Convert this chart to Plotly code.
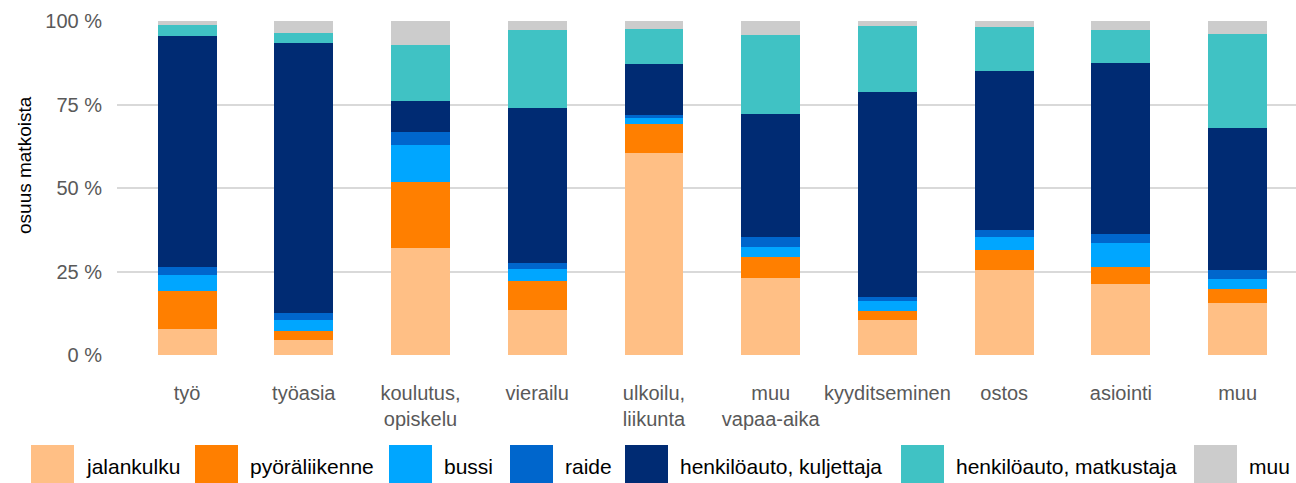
import plotly.graph_objects as go

categories = ["työ", "työasia", "koulutus,<br>opiskelu", "vierailu", "ulkoilu,<br>liikunta",
              "muu<br>vapaa-aika", "kyyditseminen", "ostos", "asiointi", "muu"]

series_names = ["jalankulku", "pyöräliikenne", "bussi", "raide",
                "henkilöauto, kuljettaja", "henkilöauto, matkustaja", "muu"]

jalankulku = [7.8, 4.5, 32.0, 13.5, 60.5, 23.1, 10.5, 25.4, 21.3, 15.6]
pyoraliikenne = [11.4, 2.7, 19.9, 8.7, 8.7, 6.2, 2.7, 6.0, 5.1, 4.2]
bussi = [4.8, 3.3, 11.0, 3.6, 1.8, 3.0, 3.0, 3.9, 7.1, 3.0]
raide = [2.4, 2.1, 3.9, 1.7, 0.9, 3.0, 1.2, 2.1, 2.7, 2.7]
kuljettaja = [69.1, 80.8, 9.2, 46.5, 15.2, 36.9, 61.3, 47.6, 51.2, 42.5]
matkustaja = [3.3, 3.0, 16.8, 23.3, 10.5, 23.6, 19.8, 13.2, 9.9, 28.1]
muu = [1.2, 3.6, 7.2, 2.7, 2.4, 4.2, 1.5, 1.8, 2.7, 3.9]

series_values = [jalankulku, pyoraliikenne, bussi, raide, kuljettaja, matkustaja, muu]
colors = ["#FFBF85", "#FF7F00", "#00A6FF", "#0066CC", "#002B73", "#40C2C4", "#CCCCCC"]

y_ticks = [0, 25, 50, 75, 100]

FONT = "Liberation Sans, Arial, sans-serif"
W, H = 1296, 483
L, R, T, B = 117, 0, 21, 128
PW, PH = W - L - R, H - T - B

fig = go.Figure()
for name, vals, col in zip(series_names, series_values, colors):
    fig.add_trace(go.Bar(x=list(range(len(categories))), y=vals, name=name,
                         marker=dict(color=col, line=dict(width=0)),
                         width=0.505, showlegend=False,
                         hovertemplate="%{y:.1f} %<extra>" + name + "</extra>"))

def px2x(px):
    return (px - L) / PW

def py2y(py):
    return (T + PH - py) / PH

# manual legend (large square swatches)
swatch_left = [31, 195, 389, 510, 625, 901, 1194]
shapes = []
annotations = []
for name, col, sx in zip(series_names, colors, swatch_left):
    shapes.append(dict(type="rect", xref="paper", yref="paper",
                       x0=px2x(sx), x1=px2x(sx + 43), y0=py2y(484), y1=py2y(445),
                       fillcolor=col, line=dict(width=0), layer="above"))
    annotations.append(dict(text=name, xref="paper", yref="paper",
                            x=px2x(sx + 53), y=py2y(466), xanchor="left", yanchor="middle",
                            showarrow=False, font=dict(family=FONT, size=21, color="#000000")))

annotations.append(dict(text="osuus matkoista", xref="paper", yref="paper",
                        x=px2x(25), y=py2y(165), xanchor="center", yanchor="middle",
                        textangle=-90, showarrow=False,
                        font=dict(family=FONT, size=19, color="#000000")))

fig.update_layout(
    width=W, height=H,
    margin=dict(l=L, r=R, t=T, b=B, pad=0),
    barmode="stack",
    plot_bgcolor="white", paper_bgcolor="white",
    font=dict(family=FONT, size=20, color="#595959"),
    shapes=shapes, annotations=annotations,
    xaxis=dict(range=[-0.6, 9.5], tickmode="array",
               tickvals=list(range(len(categories))), ticktext=categories,
               showgrid=False, zeroline=False, showline=False, ticks="",
               ticklabelstandoff=24,
               tickfont=dict(family=FONT, size=20, color="#595959")),
    yaxis=dict(range=[0, 100], tickmode="array", tickvals=y_ticks,
               ticktext=[f"{v} %" for v in y_ticks],
               showgrid=True, gridcolor="#D9D9D9", gridwidth=2,
               zeroline=False, showline=False, ticks="",
               ticklabelstandoff=14,
               tickfont=dict(family=FONT, size=20, color="#595959")),
)

fig.write_html("out.html", config={"displayModeBar": False},
               post_script="document.body.style.margin='0';document.body.style.overflow='hidden';")
